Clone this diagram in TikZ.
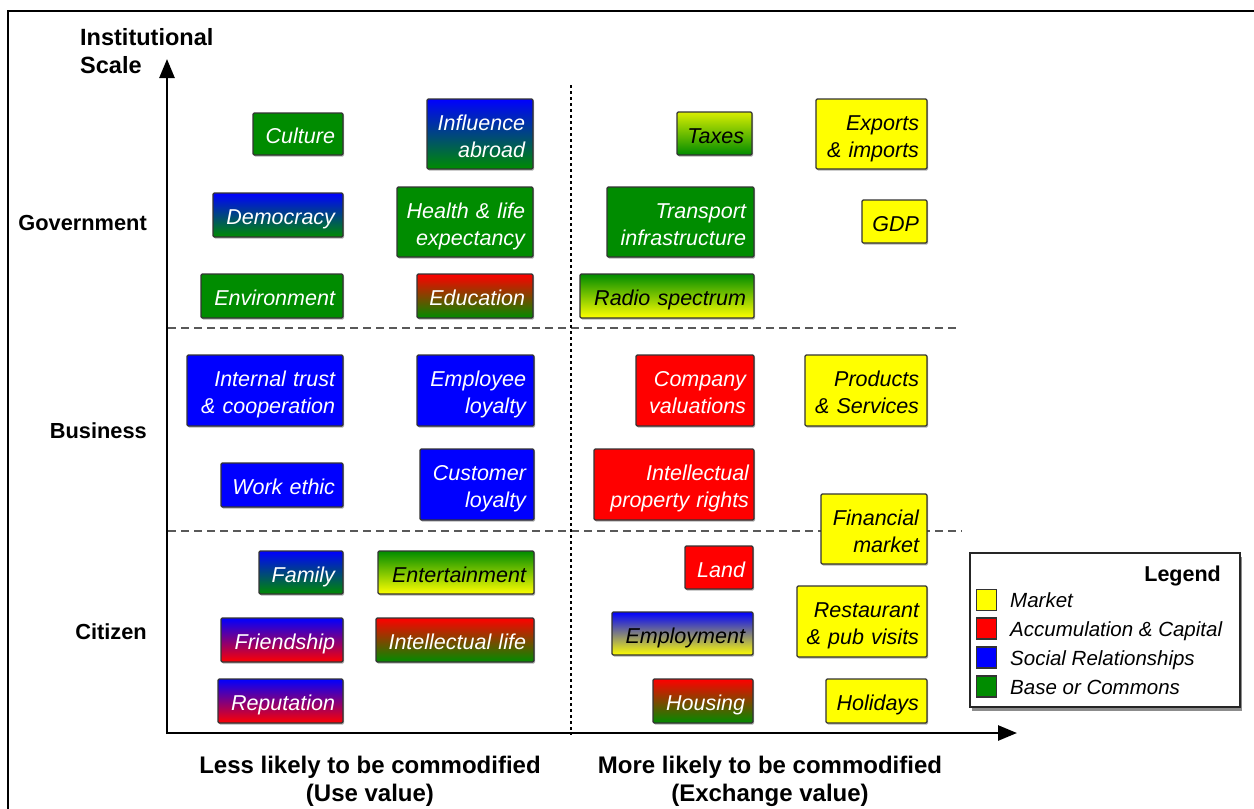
\documentclass[tikz,border=0pt]{standalone}
\usepackage{fontspec}
\setmainfont{Liberation Sans}
\usetikzlibrary{shadows,arrows.meta}

\definecolor{cgreen}{RGB}{0,140,0}
\definecolor{cblue}{RGB}{0,0,255}
\definecolor{cred}{RGB}{255,0,0}
\definecolor{cyellow}{RGB}{255,255,0}

% fixed first-line height and last-line depth for box texts
\newcommand\qtop{\rule{0pt}{25.6pt}}
\newcommand\qbot{\rule[-6pt]{0pt}{6pt}}
% horizontal text padding inside a category box
\def\qpad{8}
% one category box: name, left, top, right, bottom, fill style, text
\newcommand\qbox[7]{%
  \pgfmathsetmacro\qw{#4-#2}%
  \pgfmathsetmacro\qh{#5-#3}%
  \pgfmathsetmacro\qt{#4-#2-2*\qpad}%
  \node[cell,#6,inner xsep=\qpad pt,minimum width=\qw pt,minimum height=\qh pt,text width=\qt pt]
    (#1) at (#2,#3) {\qtop#7\qbot};}

\begin{document}
\begin{tikzpicture}[x=1pt,y=-1pt,
  cell/.style={draw=black!80,line width=1.2pt,rounded corners=1.2pt,anchor=north west,
    inner ysep=0pt,outer sep=0pt,align=right,
    font=\fontsize{21.5}{27}\selectfont\itshape,
    drop shadow={shadow xshift=1pt,shadow yshift=-1.5pt,fill=black,opacity=0.3}},
  fillG/.style={fill=cgreen,text=white},
  fillB/.style={fill=cblue,text=white},
  fillR/.style={fill=cred,text=white},
  fillY/.style={fill=cyellow,text=black},
  fillBG/.style={top color=cblue,bottom color=cgreen,text=white},
  fillRG/.style={top color=cred,bottom color=cgreen,text=white},
  fillBR/.style={top color=cblue,bottom color=cred,text=white},
  fillGY/.style={top color=cgreen,bottom color=cyellow,text=black},
  fillBY/.style={top color=cblue,bottom color=cyellow,text=black},
  fillYG/.style={top color=cyellow!85!cgreen,bottom color=cgreen,text=black},
  axlab/.style={font=\fontsize{21.8}{28}\selectfont\bfseries,inner sep=0pt},
  toplab/.style={font=\fontsize{23.5}{28}\selectfont\bfseries,inner sep=0pt},
  botlab/.style={font=\fontsize{24}{28}\selectfont\bfseries,inner sep=0pt,align=center},
  axis/.style={line width=2.6pt,-{Triangle[length=19pt,width=15pt]}},
  band/.style={line width=1.5pt,black!65,dash pattern=on 8pt off 5pt},
  split/.style={line width=2pt,black,dash pattern=on 3pt off 3pt},
  swatch/.style={draw=black!80,line width=1.2pt,minimum width=20pt,minimum height=21pt,inner sep=0pt},
  legtext/.style={font=\fontsize{20.5}{24}\selectfont\itshape,inner sep=0pt,anchor=base west}
]
\useasboundingbox (0,0) rectangle (1254,809);
\fill[white] (0,0) rectangle (1254,809);

% outer frame
\coordinate (fbl) at (8,809);
\coordinate (ftl) at (8,11);
\coordinate (ftr) at (1254,11);
\draw[line width=2pt] (fbl) -- (ftl) -- (ftr);

% band separators
\coordinate (b1l) at (168,328);
\coordinate (b1r) at (960,328);
\coordinate (b2l) at (168,531);
\coordinate (b2r) at (962,531);
\draw[band] (b1l) -- (b1r);
\draw[band] (b2l) -- (b2r);

% use / exchange split
\coordinate (stop) at (571,85);
\coordinate (sbot) at (571,735);
\draw[split] (stop) -- (sbot);

% axes
\coordinate (origin) at (167,734);
\coordinate (ytip) at (167,59);
\coordinate (xorig) at (166,733);
\coordinate (xtip) at (1017,733);
\draw[axis] (origin) -- (ytip);
\draw[axis] (xorig) -- (xtip);

% axis labels
\node[toplab,align=left,anchor=north west] (yaxis) at (80,28) {Institutional\\Scale};
\node[axlab,anchor=base east] (gov) at (147,230) {Government};
\node[axlab,anchor=base east] (bus) at (147,438) {Business};
\node[axlab,anchor=base east] (cit) at (147,639) {Citizen};
\node[botlab,anchor=north] (useval) at (370,756) {Less likely to be commodified\\(Use value)};
\node[botlab,anchor=north] (exval) at (770,756) {More likely to be commodified\\(Exchange value)};

% government
\qbox{culture}{253}{113}{343}{155}{fillG}{Culture}
\qbox{influence}{427}{99}{533}{169}{fillBG}{Influence\\abroad}
\qbox{democracy}{213}{193}{343}{237}{fillBG}{Democracy}
\qbox{health}{397}{187}{533}{257}{fillG}{Health \& life\\expectancy}
\qbox{environment}{201}{274}{343}{318}{fillG}{Environment}
\qbox{education}{417}{274}{533}{318}{fillRG}{Education}
\qbox{taxes}{677}{112}{752}{155}{fillYG}{Taxes}
\qbox{exports}{816}{99}{927}{169}{fillY}{Exports\\\& imports}
\qbox{transport}{607}{187}{754}{257}{fillG}{Transport\\infrastructure}
\qbox{gdp}{862}{200}{927}{243}{fillY}{GDP}
\qbox{radio}{580}{274}{754}{318}{fillGY}{Radio spectrum}

% business
\qbox{trust}{187}{355}{343}{426}{fillB}{Internal trust\\\& cooperation}
\qbox{employee}{417}{355}{534}{426}{fillB}{Employee\\loyalty}
\qbox{workethic}{221}{463}{343}{507}{fillB}{Work ethic}
\qbox{customer}{420}{449}{534}{520}{fillB}{Customer\\loyalty}
\qbox{company}{636}{355}{754}{426}{fillR}{Company\\valuations}
\qbox{products}{805}{355}{927}{426}{fillY}{Products\\\& Services}
\def\qpad{5}
\qbox{ipr}{594}{449}{754}{520}{fillR}{Intellectual\\property rights}
\def\qpad{8}
\qbox{financial}{821}{494}{927}{564}{fillY}{Financial\\market}

% citizen
\qbox{family}{259}{551}{343}{594}{fillBG}{Family}
\qbox{entertainment}{378}{551}{534}{594}{fillGY}{Entertainment}
\qbox{friendship}{221}{618}{343}{662}{fillBR}{Friendship}
\qbox{intlife}{376}{618}{534}{662}{fillRG}{Intellectual life}
\qbox{reputation}{218}{679}{343}{723}{fillBR}{Reputation}
\qbox{land}{685}{546}{753}{589}{fillR}{Land}
\qbox{employment}{612}{612}{753}{655}{fillBY}{Employment}
\qbox{housing}{653}{679}{753}{723}{fillRG}{Housing}
\qbox{restaurant}{797}{586}{927}{657}{fillY}{Restaurant\\\& pub visits}
\qbox{holidays}{826}{679}{927}{723}{fillY}{Holidays}

% legend
\node[draw=black!85,line width=1.5pt,fill=white,anchor=north west,minimum width=270pt,minimum height=154pt,
  drop shadow={shadow xshift=2pt,shadow yshift=-4pt,fill=black,opacity=0.45}] (legend) at (969,552) {};
\node[font=\fontsize{21.5}{24}\selectfont\bfseries,inner sep=0pt,anchor=base east] (legtitle) at (1221,581) {Legend};
\node[swatch,fill=cyellow] (swM) at (986.5,600) {};
\node[swatch,fill=cred] (swA) at (986.5,628.5) {};
\node[swatch,fill=cblue] (swS) at (986.5,657.5) {};
\node[swatch,fill=cgreen] (swB) at (986.5,686.5) {};
\node[legtext] (ltM) at (1010,607.5) {Market};
\node[legtext] (ltA) at (1010,636) {Accumulation \& Capital};
\node[legtext] (ltS) at (1010,665) {Social Relationships};
\node[legtext] (ltB) at (1010,694) {Base or Commons};
\end{tikzpicture}
\end{document}
